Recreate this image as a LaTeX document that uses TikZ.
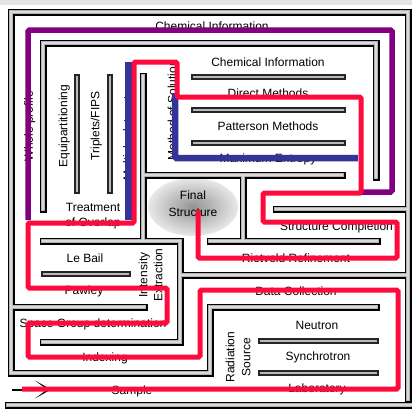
\documentclass[tikz,border=0pt]{standalone}
\usepackage{fontspec}
\setmainfont{Liberation Sans}
\usetikzlibrary{shapes.geometric}
\definecolor{routered}{HTML}{FF0A3C}
\definecolor{routepurple}{HTML}{800080}
\definecolor{routeblue}{HTML}{333399}
\newcommand\wallpath{(376,307) -- (210,307) -- (210,373) -- (11,373) -- (11,12) -- (408,12) -- (408,399)
(8,405) -- (412,405)
(376,177) -- (376,43) -- (43,43) -- (43,209)
(143,76) -- (143,241)
(143,175) -- (342,175)
(243,175) -- (243,241)
(210,241) -- (377,241)
(43,241) -- (180,241) -- (180,342) -- (43,342)
(180,275) -- (408,275)
(276,209) -- (408,209)
(11,307) -- (144,307)}
\newcommand\barpath{(194,77) -- (343,77) (194,110) -- (343,110) (194,143) -- (343,143)
(77,77) -- (77,191) (110,77) -- (110,191)
(44,274) -- (128,274)
(261,341) -- (376,341) (261,373) -- (376,373)}
\begin{document}
\begin{tikzpicture}[x=1pt,y=-1pt,
wallout/.style={line width=7pt, black, line cap=rect},
wallin/.style={line width=3.6pt, gray!60, line cap=rect},
walltop/.style={line width=1.1pt, gray!30, line cap=rect},
barout/.style={line width=5.2pt, black!85, line cap=rect},
barin/.style={line width=2.6pt, gray!55, line cap=rect},
lab/.style={font=\fontsize{12}{14}\selectfont, inner sep=0pt, text height=8.6pt, text depth=0pt},
route/.style={rounded corners=1.5pt}]
\useasboundingbox (0,0) rectangle (412,410);
\fill[gray!20] (0,0) rectangle (412,5);
\node[ellipse, minimum width=90pt, minimum height=58pt, inner color=gray!85, outer color=gray!18] (fin) at (193,207){};
\node[lab] (lab0) at (212,26){Chemical Information};
\node[lab] (lab1) at (268,62){Chemical Information};
\node[lab] (lab2) at (268,93){Direct Methods};
\node[lab] (lab3) at (268,126){Patterson Methods};
\node[lab] (lab4) at (268,158){Maximum Entropy};
\node[lab, rotate=90] (lab5) at (172,110){Method of Solution};
\node[lab, rotate=90] (lab6) at (28.5,126){Whole profile};
\node[lab, rotate=90] (lab7) at (63,126){Equipartitioning};
\node[lab, rotate=90] (lab8) at (95,126){Triplets/FIPS};
\node[lab, rotate=90] (lab9) at (127.5,135){Multiple datasets};
\node[lab] (lab10) at (93,207){Treatment};
\node[lab] (lab11) at (93,222){of Overlap};
\node[lab] (lab12) at (193,195){Final};
\node[lab] (lab13) at (193,212){Structure};
\node[lab, anchor=west] (lab14) at (280,226){Structure Completion};
\node[lab] (lab15) at (296,258){Rietveld Refinement};
\node[lab] (lab16) at (296,291){Data Collection};
\node[lab] (lab17) at (317,325){Neutron};
\node[lab] (lab18) at (318,356){Synchrotron};
\node[lab] (lab19) at (317,388){Laboratory};
\node[lab, rotate=90] (lab20) at (230,357){Radiation};
\node[lab, rotate=90] (lab21) at (246,357){Source};
\node[lab] (lab22) at (85,258){Le Bail};
\node[lab] (lab23) at (84,290){Pawley};
\node[lab, rotate=90] (lab24) at (143,275){Intensity};
\node[lab, rotate=90] (lab25) at (158,275){Extraction};
\node[lab] (lab26) at (93,323){Space Group determination};
\node[lab] (lab27) at (105,357){Indexing};
\node[lab] (lab28) at (132,390){Sample};
\draw[wallout] \wallpath;
\draw[barout] \barpath;
\draw[wallin] \wallpath;
\draw[barin] \barpath;
\draw[walltop] \wallpath;
\coordinate (sa) at (12,390);
\coordinate (sb) at (44,390);
\draw[line width=2.5pt] (sa) -- (sb);
\fill[black] (35,380.5) -- (51,389.5) -- (35,398.5) -- (47,389.5) -- cycle;
\draw[route, line width=5.5pt, routepurple] (28,220) -- (28,30) -- (392,30) -- (392,192) -- (360,192);
\draw[route, line width=7pt, routeblue] (128,62) -- (128,220);
\draw[route, line width=6.5pt, routeblue] (175,93) -- (175,158) -- (358,158);
\draw[route, line width=5pt, routered] (22,389) -- (398,389) -- (398,290) -- (200,290) -- (200,357) -- (28,357) -- (28,323) -- (167,323) -- (167,288) -- (28,288) -- (28,223) -- (134,223) -- (134,62) -- (177,62) -- (177,97) -- (361,97) -- (361,193) -- (263,193) -- (263,222) -- (397,222) -- (397,258) -- (198,258) -- (198,210);
\end{tikzpicture}
\end{document}
